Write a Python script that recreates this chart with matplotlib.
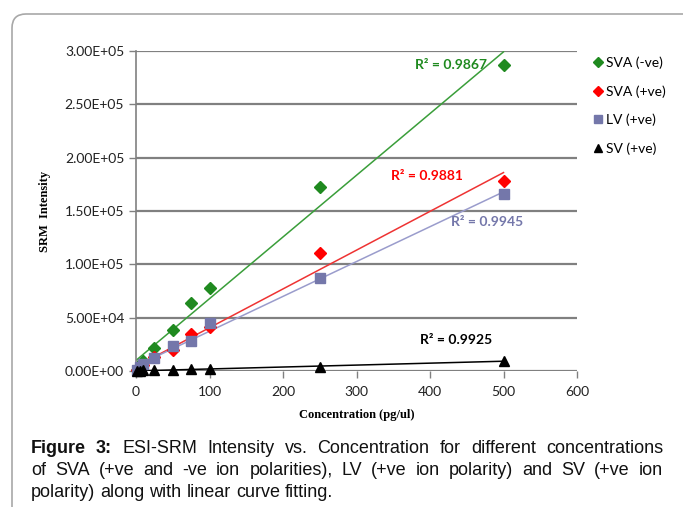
import matplotlib.pyplot as plt
from matplotlib.patches import FancyBboxPatch
import numpy as np

# concentrations (pg/ul)
conc = [1, 5, 10, 25, 50, 75, 100, 250, 500]

# SRM intensities
sva_neg = [1000, 5000, 9400, 22000, 38400, 64000, 78000, 172500, 287000]
sva_pos = [800, 3000, 6000, 13000, 20000, 35000, 41000, 110600, 178000]
lv_pos = [900, 3500, 6500, 12500, 23700, 28400, 45000, 86900, 166000]
sv_pos = [100, 300, 500, 700, 1000, 1500, 2000, 3500, 9700]

series = [
    ('SVA (-ve)', sva_neg, 'D', '#1f8a1f', '#3a9e3a', 'R² = 0.9867', (451, 65)),
    ('SVA (+ve)', sva_pos, 'D', '#ff0000', '#ee3333', 'R² = 0.9881', (427, 176)),
    ('LV (+ve)', lv_pos, 's', '#7477aa', '#9a9ccc', 'R² = 0.9945', (487, 222)),
    ('SV (+ve)', sv_pos, '^', '#000000', '#000000', 'R² = 0.9925', (456, 340)),
]

fig = plt.figure(figsize=(6.83, 5.07), dpi=100)

# background layer in pixel coordinates (frame + caption)
bg = fig.add_axes([0, 0, 1, 1], zorder=0)
bg.set_xlim(0, 683)
bg.set_ylim(507, 0)
bg.axis('off')
bg.add_patch(FancyBboxPatch((12, 14), 720, 560, boxstyle='round,pad=0,rounding_size=14',
                            fc='white', ec='#a8a8a8', lw=1.2))

ax = fig.add_axes([136/683, 1-371/507, (577-136)/683, (371-51)/507], zorder=1)
ax.patch.set_alpha(0)
ax.set_xlim(0, 600)
ax.set_ylim(0, 300000)
ax.set_xticks(range(0, 601, 100))
ax.set_yticks(range(0, 300001, 50000))
ax.set_yticklabels(['%.2E' % v for v in range(0, 300001, 50000)])
ax.grid(axis='y', color='#808080', lw=1.6)
ax.set_axisbelow(True)
for s in ['top', 'right', 'bottom']:
    ax.spines[s].set_visible(False)
ax.spines['left'].set_color('#808080')
ax.spines['left'].set_linewidth(1.2)
ax.tick_params(axis='both', colors='#808080', length=5, width=1.0, labelsize=10,
               labelcolor='#222222')
ax.tick_params(axis='x', pad=6)
for lab in ax.get_xticklabels() + ax.get_yticklabels():
    lab.set_family('Lato')

x = np.array(conc)
for name, vals, mk, col, lcol, r2, pos in series:
    m, c = np.polyfit(x, np.array(vals), 1)
    xs = np.array([x.min(), x.max()])
    ax.plot(xs, m*xs + c, color=lcol, lw=1.1, zorder=2)
    ax.plot(conc, vals, mk, color=col, ms=7 if mk != 'D' else 6.5, label=name,
            linestyle='none', zorder=3, clip_on=False)
    ax.text(pos[0], pos[1], r2, color=col, fontsize=10, fontweight='bold',
            family='Lato', ha='center', va='center', zorder=5,
            transform=bg.transData)

ax.legend(loc='upper left', bbox_to_anchor=(586/683, 1-51/507),
          bbox_transform=fig.transFigure, frameon=False,
          prop={'family': 'Lato', 'size': 10}, handletextpad=0.15, handlelength=0.9,
          labelspacing=1.15, markerscale=0.75, borderaxespad=0)

ax.set_xlabel('Concentration (pg/ul)', family='Liberation Serif', fontweight='bold',
              fontsize=9, labelpad=8)
ax.set_ylabel('SRM  Intensity', family='Liberation Serif', fontweight='bold',
              fontsize=9, labelpad=10)

# caption, justified on the first two lines
cap_lines = [
    'Figure 3: ESI-SRM Intensity vs. Concentration for different concentrations',
    'of SVA (+ve and -ve ion polarities), LV (+ve ion polarity) and SV (+ve ion',
    'polarity) along with linear curve fitting.',
]
cap_y = [453, 475, 497]
x0, x1 = 31, 663
cap_fs = 13
fig.canvas.draw()
r = fig.canvas.get_renderer()
for i, line in enumerate(cap_lines):
    words = line.split(' ')
    arts = []
    for j, w in enumerate(words):
        bold = (i == 0 and j < 2)
        t = bg.text(0, cap_y[i], w, fontsize=cap_fs, family='Liberation Sans',
                    fontweight='bold' if bold else 'normal', va='baseline', ha='left',
                    color='#111111')
        arts.append(t)
    widths = [a.get_window_extent(r).width for a in arts]
    if i < 2:
        gap = (x1 - x0 - sum(widths)) / (len(words) - 1)
    else:
        sp = bg.text(0, 0, 'a a', fontsize=cap_fs, family='Liberation Sans')
        sp2 = bg.text(0, 0, 'aa', fontsize=cap_fs, family='Liberation Sans')
        gap = sp.get_window_extent(r).width - sp2.get_window_extent(r).width
        sp.remove()
        sp2.remove()
    xp = x0
    for a, wd in zip(arts, widths):
        a.set_x(xp)
        xp += wd + gap

fig.savefig('out.png', dpi=100)
